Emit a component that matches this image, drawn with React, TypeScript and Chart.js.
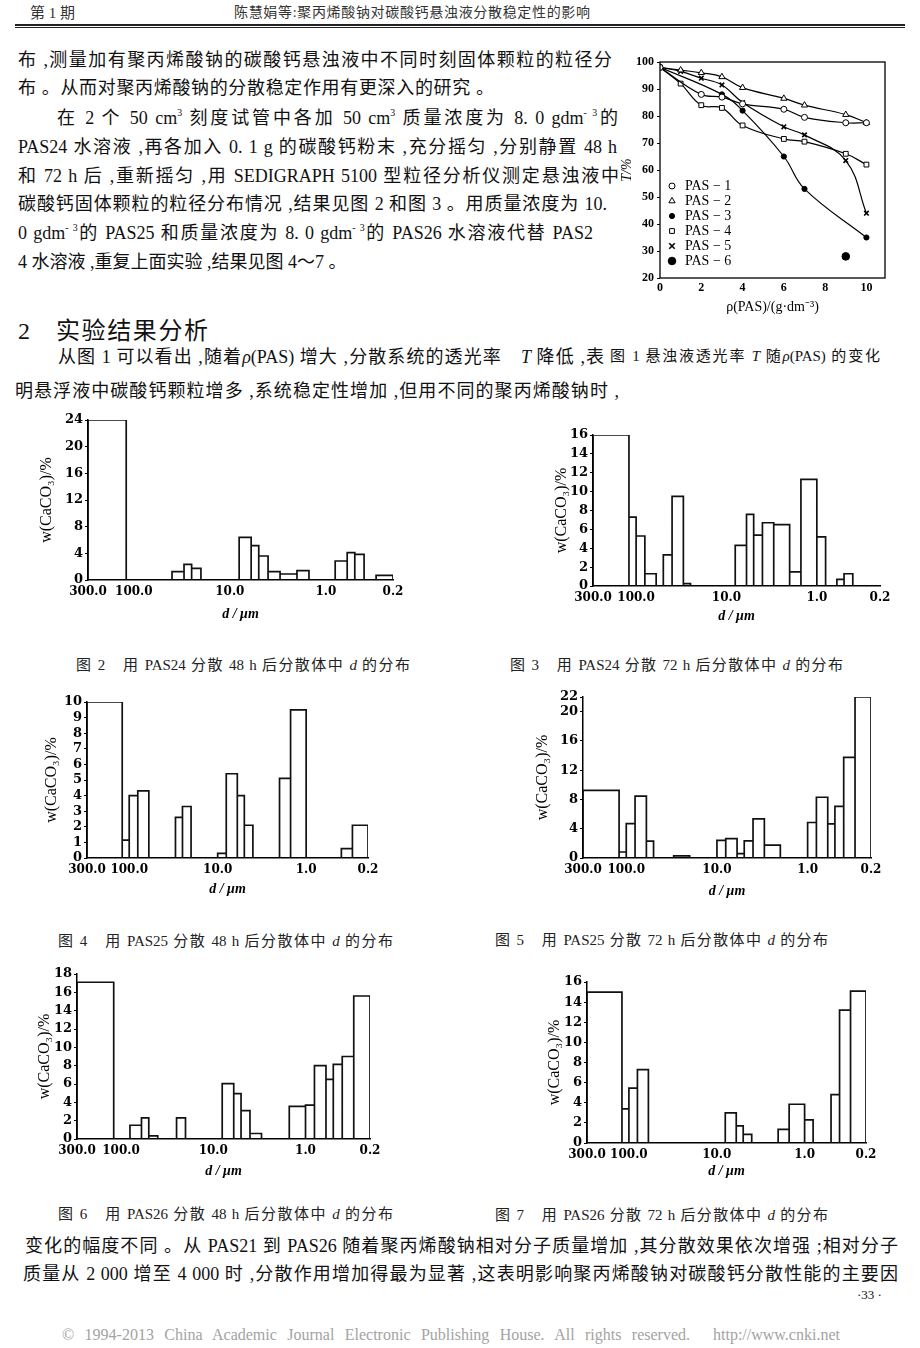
import React, { useEffect, useRef } from "react";
import { Chart, registerables } from "chart.js";

Chart.register(...registerables);

type Bin = [number, number, number]; // [from µm, to µm, w(CaCO3) %]
type Pt = [number, number]; // [ρ(PAS), T %]

// ---------- Fig.1 data ----------
const fig1XTicks = [0, 2, 4, 6, 8, 10];
const fig1YTicks = [20, 30, 40, 50, 60, 70, 80, 90, 100];
const pasLabels = ["PAS − 1", "PAS − 2", "PAS − 3", "PAS − 4", "PAS − 5", "PAS − 6"];
const pas1: Pt[] = [[0, 98], [2, 88], [3, 87], [4, 84.5], [6, 82.5], [7, 79.5], [9, 77.5], [10, 77.5]];
const pas2: Pt[] = [[0, 98], [1, 97], [2, 96], [3, 94.5], [4, 90.5], [6, 86.5], [7, 84], [9, 80.5], [10, 77.5]];
const pas3: Pt[] = [[0, 98], [3, 88], [4, 82], [6, 65], [7, 53], [10, 35]];
const pas4: Pt[] = [[0, 98], [1, 92], [2, 84], [3, 83], [4, 76.5], [6, 71.5], [7, 70.5], [9, 66], [10, 62]];
const pas5: Pt[] = [[0, 98], [1, 96.5], [2, 94], [3, 91.5], [4, 85], [6, 76], [7, 73], [9, 63.5], [10, 44]];
const pas6: Pt[] = [[9, 28]];

// ---------- Histogram data ----------
const sizeTicks = [300, 100, 10, 1, 0.2];

const fig2Bins: Bin[] = [
  [300, 120, 24], [40, 30, 1.25], [30, 25, 2.35], [25, 20, 1.75],
  [8, 6, 6.4], [6, 5, 5.15], [5, 4, 3.6], [4, 3, 1.25], [3, 2, 0.9], [2, 1.5, 1.4],
  [0.8, 0.6, 2.85], [0.6, 0.5, 4.1], [0.5, 0.4, 3.85], [0.3, 0.2, 0.7],
];
const fig2YTicks = [0, 4, 8, 12, 16, 20, 24];

const fig3Bins: Bin[] = [
  [300, 120, 16], [120, 100, 7.3], [100, 80, 5.3], [80, 60, 1.3], [50, 40, 3.3], [40, 30, 9.5], [30, 25, 0.25],
  [8, 6, 4.3], [6, 5, 7.6], [5, 4, 5.4], [4, 3, 6.7], [3, 2, 6.5], [2, 1.5, 1.5], [1.5, 1, 11.3], [1, 0.8, 5.2],
  [0.6, 0.5, 0.7], [0.5, 0.4, 1.3],
];
const fig3YTicks = [0, 2, 4, 6, 8, 10, 12, 14, 16];

const fig4Bins: Bin[] = [
  [300, 120, 10], [120, 100, 1.15], [100, 80, 4.0], [80, 60, 4.3], [30, 25, 2.6], [25, 20, 3.3],
  [10, 8, 0.3], [8, 6, 5.4], [6, 5, 4.0], [5, 4, 2.1], [2, 1.5, 5.1], [1.5, 1, 9.5],
  [0.4, 0.3, 0.6], [0.3, 0.2, 2.1],
];
const fig4YTicks = [0, 1, 2, 3, 4, 5, 6, 7, 8, 9, 10];

const fig5Bins: Bin[] = [
  [300, 120, 9.25], [120, 100, 0.82], [100, 80, 4.7], [80, 60, 8.45], [60, 50, 2.3], [30, 20, 0.3],
  [10, 8, 2.4], [8, 6, 2.65], [6, 5, 0.6], [5, 4, 2.35], [4, 3, 5.35], [3, 2, 1.75],
  [1, 0.8, 4.85], [0.8, 0.6, 8.3], [0.6, 0.5, 4.65], [0.5, 0.4, 7.05], [0.4, 0.3, 13.75], [0.3, 0.2, 22],
];
const fig5YTicks = [0, 4, 8, 12, 16, 20, 22];

const fig6Bins: Bin[] = [
  [300, 120, 17.1], [80, 60, 1.5], [60, 50, 2.3], [50, 40, 0.35], [25, 20, 2.3],
  [8, 6, 6.05], [6, 5, 4.95], [5, 4, 3.1], [4, 3, 0.6],
  [1.5, 1, 3.55], [1, 0.8, 3.7], [0.8, 0.6, 8.0], [0.6, 0.5, 6.5], [0.5, 0.4, 8.15], [0.4, 0.3, 9.0], [0.3, 0.2, 15.6],
];
const fig6YTicks = [0, 2, 4, 6, 8, 10, 12, 14, 16, 18];

const fig7Bins: Bin[] = [
  [300, 120, 15], [120, 100, 3.4], [100, 80, 5.45], [80, 60, 7.3],
  [8, 6, 3.0], [6, 5, 1.7], [5, 4, 0.85], [2, 1.5, 1.35], [1.5, 1, 3.85], [1, 0.8, 2.3],
  [0.5, 0.4, 4.8], [0.4, 0.3, 13.2], [0.3, 0.2, 15.1],
];
const fig7YTicks = [0, 2, 4, 6, 8, 10, 12, 14, 16];

// ---------- helpers ----------
const serif = '"Liberation Serif", "Noto Sans CJK SC", serif';
const tickFamily = '"DejaVu Serif", "Liberation Serif", serif';

interface Frame {
  left: number; top: number; right: number; bottom: number;
  yTitleX: number; xTitleY: number; yTitleSize: number; xTitleSize: number;
}

function geometry(f: Frame) {
  const cx = Math.round(f.yTitleX - (f.yTitleSize * 1.2) / 2);
  const cy = f.top - 12;
  const cb = Math.round(f.xTitleY + (f.xTitleSize * 1.2) / 2);
  const cw = f.right + 20 - cx;
  const ch = cb - cy;
  return { cx, cy, cw, ch, yw: f.left - cx, xh: cb - f.bottom };
}

function binsToPoints(bins: Bin[]) {
  const pts: { x: number; y: number | null }[] = [];
  for (const [a, b, h] of bins) {
    pts.push({ x: a, y: 0 }, { x: a, y: h }, { x: b, y: h }, { x: b, y: 0 }, { x: b, y: null });
  }
  return pts;
}

function Histogram({ bins, yTicks, frame }: { bins: Bin[]; yTicks: number[]; frame: Frame }) {
  const ref = useRef<HTMLCanvasElement>(null);
  const g = geometry(frame);
  useEffect(() => {
    const chart = new Chart(ref.current as HTMLCanvasElement, {
      type: "line",
      data: {
        datasets: [
          {
            data: binsToPoints(bins) as any,
            borderColor: "#111",
            borderWidth: 1.7,
            pointRadius: 0,
            fill: false,
            tension: 0,
            spanGaps: false,
            borderJoinStyle: "miter",
          },
        ],
      },
      options: {
        animation: false,
        responsive: false,
        events: [],
        layout: { padding: { left: 0, top: 12, right: 20, bottom: 0 } },
        plugins: { legend: { display: false }, tooltip: { enabled: false } },
        scales: {
          x: {
            type: "logarithmic",
            reverse: true,
            min: 0.2,
            max: 300,
            bounds: "data",
            afterBuildTicks: (s: any) => {
              s.ticks = sizeTicks.map((v) => ({ value: v }));
            },
            afterFit: (s: any) => {
              s.height = g.xh;
            },
            ticks: {
              autoSkip: false,
              maxRotation: 0,
              padding: 5,
              color: "#000",
              font: { family: tickFamily, size: 12, weight: "bold" },
              callback: (v: any) => Number(v).toFixed(1),
            },
            grid: { display: false, drawTicks: false },
            border: { display: true, color: "#000", width: 1.5 },
            title: {
              display: true,
              text: "d / μm",
              padding: 0,
              color: "#000",
              font: { family: serif, size: frame.xTitleSize, style: "italic", weight: "bold" },
            },
          },
          y: {
            type: "linear",
            min: 0,
            max: yTicks[yTicks.length - 1],
            afterBuildTicks: (s: any) => {
              s.ticks = yTicks.map((v) => ({ value: v }));
            },
            afterFit: (s: any) => {
              s.width = g.yw;
            },
            ticks: {
              autoSkip: false,
              padding: 2,
              color: "#000",
              font: { family: tickFamily, size: 13, weight: "bold" },
            },
            grid: { display: true, drawOnChartArea: false, drawTicks: true, tickLength: 3, color: "#000" },
            border: { display: true, color: "#000", width: 1.5 },
            title: {
              display: true,
              text: "w(CaCO₃)/%",
              padding: 0,
              color: "#000",
              font: { family: serif, size: frame.yTitleSize },
            },
          },
        },
      } as any,
    });
    return () => chart.destroy();
  }, []);
  return (
    <canvas
      ref={ref}
      width={g.cw}
      height={g.ch}
      style={{ position: "absolute", left: g.cx, top: g.cy, width: g.cw, height: g.ch }}
    />
  );
}

function drawMarker(ctx: CanvasRenderingContext2D, style: string, x: number, y: number, r: number, fill: string) {
  ctx.save();
  ctx.beginPath();
  ctx.lineWidth = 1;
  ctx.strokeStyle = "#000";
  ctx.fillStyle = fill;
  if (style === "circle") {
    ctx.arc(x, y, r, 0, Math.PI * 2);
    ctx.fill();
    ctx.stroke();
  } else if (style === "triangle") {
    for (let i = 0; i < 3; i++) {
      const a = (i * 2 * Math.PI) / 3;
      const px = x + Math.sin(a) * r;
      const py = y - Math.cos(a) * r;
      if (i === 0) ctx.moveTo(px, py);
      else ctx.lineTo(px, py);
    }
    ctx.closePath();
    ctx.fill();
    ctx.stroke();
  } else if (style === "rect") {
    const s = r * Math.SQRT2;
    ctx.rect(x - s / 2, y - s / 2, s, s);
    ctx.fill();
    ctx.stroke();
  } else if (style === "crossRot") {
    const d = r * Math.SQRT1_2 * 1.2;
    ctx.lineWidth = 1.6;
    ctx.moveTo(x - d, y - d);
    ctx.lineTo(x + d, y + d);
    ctx.moveTo(x + d, y - d);
    ctx.lineTo(x - d, y + d);
    ctx.stroke();
  }
  ctx.restore();
}

function Fig1() {
  const ref = useRef<HTMLCanvasElement>(null);
  const frame: Frame = {
    left: 660, top: 62, right: 885, bottom: 278,
    yTitleX: 627, xTitleY: 308, yTitleSize: 14, xTitleSize: 14,
  };
  const g = geometry(frame);
  useEffect(() => {
    const series = [pas1, pas2, pas3, pas4, pas5, pas6];
    const styles = ["circle", "triangle", "circle", "rect", "crossRot", "circle"];
    const radii = [3, 3.6, 2.6, 3.4, 3.2, 3.8];
    const fills = ["#fff", "#fff", "#000", "#fff", "#000", "#000"];
    const lines = [true, true, true, true, true, false];
    const framePlugin = {
      id: "frameBox",
      afterDraw(chart: any) {
        const { ctx, chartArea: a } = chart;
        ctx.save();
        ctx.strokeStyle = "#000";
        ctx.lineWidth = 1.3;
        ctx.strokeRect(a.left, a.top, a.right - a.left, a.bottom - a.top);
        ctx.restore();
      },
    };
    const legendPlugin = {
      id: "insideLegend",
      afterDraw(chart: any) {
        const { ctx, chartArea: a } = chart;
        chart.data.datasets.forEach((ds: any, i: number) => {
          const y = a.top + 124 + i * 15;
          drawMarker(ctx, styles[i], a.left + 12, y, radii[i], fills[i]);
          ctx.save();
          ctx.fillStyle = "#000";
          ctx.font = '14px "Liberation Serif"';
          ctx.textBaseline = "middle";
          ctx.fillText(ds.label, a.left + 25, y);
          ctx.restore();
        });
      },
    };
    const chart = new Chart(ref.current as HTMLCanvasElement, {
      type: "line",
      data: {
        datasets: series.map((s, i) => ({
          label: pasLabels[i],
          data: s.map(([x, y]) => ({ x, y })),
          showLine: lines[i],
          borderColor: "#000",
          borderWidth: 1.2,
          tension: 0.4,
          fill: false,
          pointStyle: styles[i],
          pointRadius: radii[i],
          pointBackgroundColor: fills[i],
          pointBorderColor: "#000",
          pointBorderWidth: styles[i] === "crossRot" ? 1.6 : 1,
        })) as any,
      },
      options: {
        animation: false,
        responsive: false,
        events: [],
        layout: { padding: { left: 0, top: 12, right: 20, bottom: 0 } },
        plugins: { legend: { display: false }, tooltip: { enabled: false } },
        scales: {
          x: {
            type: "linear",
            min: 0,
            max: 10.9,
            afterBuildTicks: (s: any) => {
              s.ticks = fig1XTicks.map((v) => ({ value: v }));
            },
            afterFit: (s: any) => {
              s.height = g.xh;
            },
            ticks: { autoSkip: false, padding: 3, color: "#000", font: { family: serif, size: 12, weight: "bold" } },
            grid: { display: false, drawTicks: false },
            border: { display: false },
            title: {
              display: true,
              text: "ρ(PAS)/(g·dm⁻³)",
              padding: 0,
              color: "#000",
              font: { family: serif, size: frame.xTitleSize },
            },
          },
          y: {
            type: "linear",
            min: 20,
            max: 100,
            afterBuildTicks: (s: any) => {
              s.ticks = fig1YTicks.map((v) => ({ value: v }));
            },
            afterFit: (s: any) => {
              s.width = g.yw;
            },
            ticks: { autoSkip: false, padding: 3, color: "#000", font: { family: serif, size: 12, weight: "bold" } },
            grid: { display: true, drawOnChartArea: false, drawTicks: true, tickLength: 3, color: "#000" },
            border: { display: false },
            title: {
              display: true,
              text: "T/%",
              padding: 0,
              color: "#000",
              font: { family: serif, size: frame.yTitleSize, style: "italic" },
            },
          },
        },
      } as any,
      plugins: [framePlugin, legendPlugin],
    });
    return () => chart.destroy();
  }, []);
  return (
    <canvas
      ref={ref}
      width={g.cw}
      height={g.ch}
      style={{ position: "absolute", left: g.cx, top: g.cy, width: g.cw, height: g.ch }}
    />
  );
}

const Sup = ({ children }: { children: any }) => (
  <sup style={{ fontSize: "0.55em", verticalAlign: "0.8em", lineHeight: 0 }}>{children}</sup>
);

function TL({
  x, y, w, size = 18, justify = true, color = "#111", children, lh = 24, style = {},
}: {
  x: number; y: number; w?: number; size?: number; justify?: boolean; color?: string; children: any; lh?: number; style?: any;
}) {
  return (
    <div
      style={{
        position: "absolute",
        left: x,
        top: y - lh / 2,
        width: w,
        height: lh,
        lineHeight: lh + "px",
        fontSize: size,
        fontFamily: serif,
        color,
        textAlign: justify ? "justify" : "left",
        textAlignLast: justify ? "justify" : "left",
        whiteSpace: justify ? "normal" : "nowrap",
        ...style,
      }}
    >
      {children}
    </div>
  );
}

const histos: { bins: Bin[]; yTicks: number[]; frame: Frame }[] = [
  { bins: fig2Bins, yTicks: fig2YTicks, frame: { left: 88, top: 420, right: 393, bottom: 580, yTitleX: 47, xTitleY: 615, yTitleSize: 16, xTitleSize: 14 } },
  { bins: fig3Bins, yTicks: fig3YTicks, frame: { left: 593, top: 435, right: 880, bottom: 586, yTitleX: 562, xTitleY: 617, yTitleSize: 16, xTitleSize: 14 } },
  { bins: fig4Bins, yTicks: fig4YTicks, frame: { left: 87, top: 702, right: 368, bottom: 858, yTitleX: 52, xTitleY: 890, yTitleSize: 16, xTitleSize: 14 } },
  { bins: fig5Bins, yTicks: fig5YTicks, frame: { left: 583, top: 697, right: 871, bottom: 858, yTitleX: 543, xTitleY: 892, yTitleSize: 16, xTitleSize: 14 } },
  { bins: fig6Bins, yTicks: fig6YTicks, frame: { left: 77, top: 974, right: 370, bottom: 1139, yTitleX: 45, xTitleY: 1172, yTitleSize: 16, xTitleSize: 14 } },
  { bins: fig7Bins, yTicks: fig7YTicks, frame: { left: 587, top: 982, right: 866, bottom: 1143, yTitleX: 555, xTitleY: 1172, yTitleSize: 16, xTitleSize: 14 } },
];

const captions: { x: number; y: number; w: number; n: number; pas: string; h: number }[] = [
  { x: 76, y: 665, w: 334, n: 2, pas: "PAS24", h: 48 },
  { x: 510, y: 665, w: 333, n: 3, pas: "PAS24", h: 72 },
  { x: 58, y: 941, w: 335, n: 4, pas: "PAS25", h: 48 },
  { x: 495, y: 940, w: 333, n: 5, pas: "PAS25", h: 72 },
  { x: 58, y: 1214, w: 335, n: 6, pas: "PAS26", h: 48 },
  { x: 495, y: 1215, w: 333, n: 7, pas: "PAS26", h: 72 },
];

export default function App() {
  return (
    <div
      style={{
        position: "absolute",
        left: 0,
        top: 0,
        width: 920,
        height: 1348,
        background: "#fff",
        overflow: "hidden",
        fontFamily: serif,
      }}
    >
      {/* running header */}
      <TL x={30} y={13} size={15} justify={false} color="#333">第 1 期</TL>
      <TL x={234} y={13} w={356} size={14} color="#333">陈慧娟等:聚丙烯酸钠对碳酸钙悬浊液分散稳定性的影响</TL>
      <div style={{ position: "absolute", left: 15, top: 24, width: 890, height: 2, background: "#222" }} />
      <div style={{ position: "absolute", left: 15, top: 27, width: 890, height: 1, background: "#222" }} />

      {/* body text, top */}
      <TL x={18} y={60} w={594}>布 ,测量加有聚丙烯酸钠的碳酸钙悬浊液中不同时刻固体颗粒的粒径分</TL>
      <TL x={18} y={88} w={476}>布 。从而对聚丙烯酸钠的分散稳定作用有更深入的研究 。</TL>
      <TL x={57} y={118} w={561}>
        在 2 个 50 cm<Sup>3</Sup> 刻度试管中各加 50 cm<Sup>3</Sup> 质量浓度为 8. 0 gdm<Sup>- 3</Sup>的
      </TL>
      <TL x={18} y={147} w={599}>PAS24 水溶液 ,再各加入 0. 1 g 的碳酸钙粉末 ,充分摇匀 ,分别静置 48 h</TL>
      <TL x={18} y={176} w={601}>和 72 h 后 ,重新摇匀 ,用 SEDIGRAPH 5100 型粒径分析仪测定悬浊液中</TL>
      <TL x={18} y={204} w={589}>碳酸钙固体颗粒的粒径分布情况 ,结果见图 2 和图 3 。用质量浓度为 10.</TL>
      <TL x={18} y={233} w={575}>
        0 gdm<Sup>- 3</Sup>的 PAS25 和质量浓度为 8. 0 gdm<Sup>- 3</Sup>的 PAS26 水溶液代替 PAS2
      </TL>
      <TL x={18} y={262} justify={false}>4 水溶液 ,重复上面实验 ,结果见图 4～7 。</TL>

      {/* section heading */}
      <TL x={18} y={331} size={24} justify={false} lh={30}>2</TL>
      <TL x={56} y={331} w={152} size={24} lh={30}>实验结果分析</TL>
      <TL x={58} y={357} w={546}>
        从图 1 可以看出 ,随着<i>ρ</i>(PAS) 增大 ,分散系统的透光率　<i>T</i> 降低 ,表
      </TL>
      <TL x={610} y={356} w={270} size={15}>
        图 1 悬浊液透光率 <i>T</i> 随<i>ρ</i>(PAS) 的变化
      </TL>
      <TL x={15} y={391} w={604}>明悬浮液中碳酸钙颗粒增多 ,系统稳定性增加 ,但用不同的聚丙烯酸钠时 ,</TL>

      {/* charts */}
      <Fig1 />
      {histos.map((h, i) => (
        <Histogram key={i} bins={h.bins} yTicks={h.yTicks} frame={h.frame} />
      ))}
      {captions.map((c, i) => (
        <TL key={"c" + i} x={c.x} y={c.y} w={c.w} size={15} color="#222">
          图 {c.n}　用 {c.pas} 分散 {c.h} h 后分散体中 <i>d</i> 的分布
        </TL>
      ))}

      {/* body text, bottom */}
      <TL x={25} y={1246} w={873}>
        变化的幅度不同 。从 PAS21 到 PAS26 随着聚丙烯酸钠相对分子质量增加 ,其分散效果依次增强 ;相对分子
      </TL>
      <TL x={23} y={1274} w={875}>
        质量从 2 000 增至 4 000 时 ,分散作用增加得最为显著 ,这表明影响聚丙烯酸钠对碳酸钙分散性能的主要因
      </TL>
      <TL x={857} y={1295} size={13} justify={false}>·33 ·</TL>

      {/* footer */}
      <TL x={62} y={1335} w={628} size={16} color="#a3a3a3">
        © 1994-2013 China Academic Journal Electronic Publishing House. All rights reserved.
      </TL>
      <TL x={713} y={1335} size={16} justify={false} color="#a3a3a3">http://www.cnki.net</TL>
    </div>
  );
}
